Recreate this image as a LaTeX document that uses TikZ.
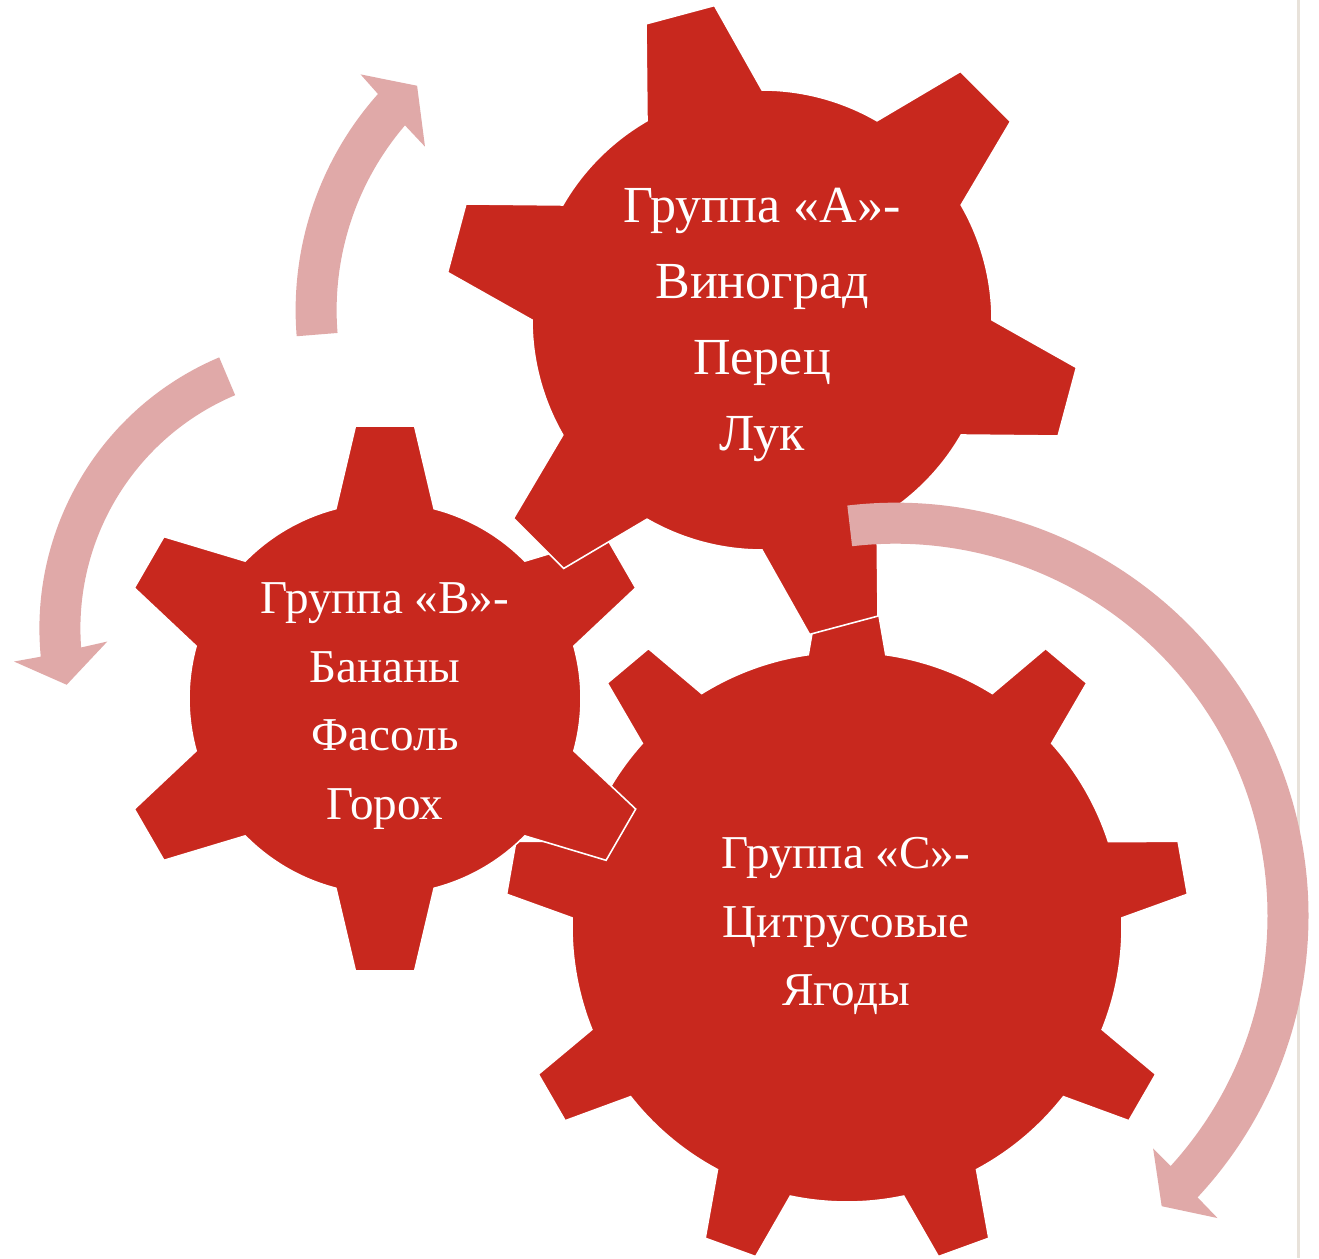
\documentclass[tikz,border=0pt]{standalone}
\usepackage{fontspec}
\setmainfont{Liberation Serif}
\usepackage{tikz}
\usetikzlibrary{calc}

\definecolor{gearred}{RGB}{200,40,30}
\definecolor{arrowpink}{RGB}{224,169,168}
\definecolor{pageline}{RGB}{232,226,218}

\begin{document}
\begin{tikzpicture}[
    x=0.01cm, y=0.01cm,
    gearbody/.style={
      fill=gearred,
      draw=white,
      line width=0.45pt
    },
    turnarrow/.style={
      fill=arrowpink,
      draw=none
    },
    gearlabel/.style={
      text=white,
      align=center,
      inner sep=0pt,
      font=\fontsize{13.4}{19.5}\selectfont
    }
]

\useasboundingbox (0,0) rectangle (1319,1258);
\fill[white] (0,0) rectangle (1319,1258);

%% Page edge
\draw[pageline, line width=0.85pt] (1298,0) -- (1298,1258);

%% Gears (C below, then B, then A on top)
\filldraw[gearbody, shift={(847,331)}] (81.9:275)
  \foreach \t in {90,130,...,410} {
    -- ({\t-4.5}:342) -- ({\t+4.5}:342) -- ({\t+8.1}:275)
    arc[start angle={\t+8.1}, end angle={\t+31.9}, radius=275]
  } -- cycle;

\filldraw[gearbody, shift={(385,559.5)}] (75.5:196)
  \foreach \t in {90,150,...,390} {
    -- ({\t-6.2}:274) -- ({\t+6.2}:274) -- ({\t+14.5}:196)
    arc[start angle={\t+14.5}, end angle={\t+45.5}, radius=196]
  } -- cycle;

\filldraw[gearbody, shift={(762,938)}] (90:230)
  \foreach \t in {105,165,...,405} {
    -- ({\t-6.4}:318) -- ({\t+6.4}:318) -- ({\t+15}:230)
    arc[start angle={\t+15}, end angle={\t+45}, radius=230]
  } -- cycle;

%% Labels
\node[gearlabel, font=\fontsize{14.8}{21.6}\selectfont] (groupA) at (762,933) {Группа «А»-\\Виноград\\Перец\\Лук};
\node[gearlabel] (groupB) at (385,552) {Группа «В»-\\Бананы\\Фасоль\\Горох};
\node[gearlabel] (groupC) at (846,332) {Группа «С»-\\Цитрусовые\\Ягоды};

%% Arrows
\fill[turnarrow, shift={(620.6,947.8)}] (184.6:325)
  arc[start angle=184.6, end angle=138.3, radius=325]
  -- (137.8:351) -- (132.2:303) -- (140.1:255) -- (139.4:284)
  arc[start angle=139.4, end angle=184.6, radius=284] -- cycle;

\fill[turnarrow, shift={(333.7,629.5)}] (112.9:294.3)
  arc[start angle=112.9, end angle=185.5, radius=294.3]
  -- (185.9:321.4) -- (191.9:272.9) -- (183.3:226.8) -- (184.3:253.3)
  arc[start angle=184.3, end angle=112.9, radius=253.3] -- cycle;

\fill[turnarrow, shift={(895.5,342.3)}] (96.7:413)
  arc[start angle=96.7, end angle=-43, radius=413]
  -- (-43.2:441.7) -- (-47.5:394) -- (-42.1:347.2) -- (-42.3:372)
  arc[start angle=-42.3, end angle=96.7, radius=372] -- cycle;

\end{tikzpicture}
\end{document}
